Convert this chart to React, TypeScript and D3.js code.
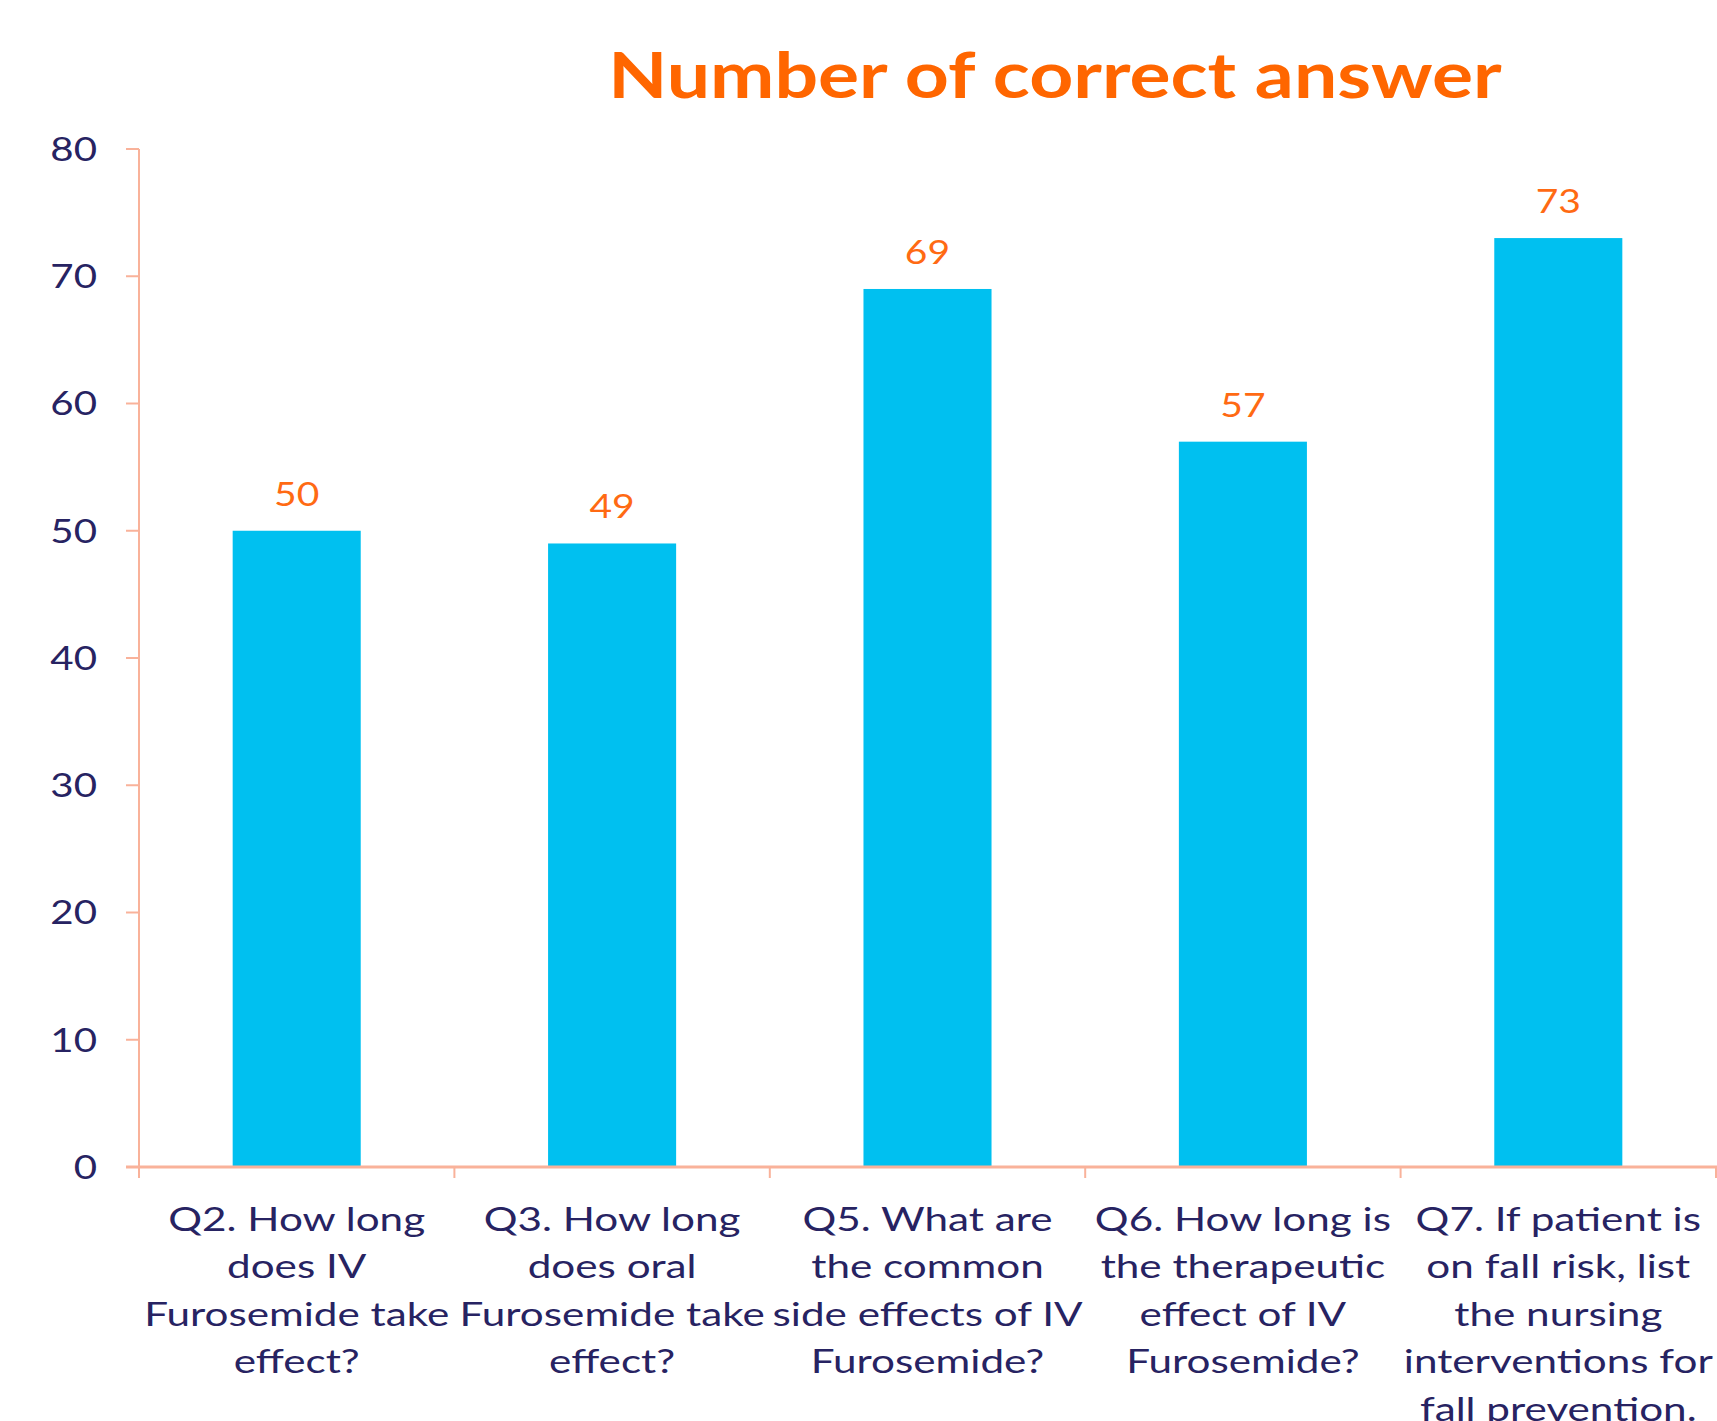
import React from "react";
import * as d3 from "d3";

const categories: string[] = ["Q2", "Q3", "Q5", "Q6", "Q7"];
const values: number[] = [50, 49, 69, 57, 73];
const categoryLabels: string[][] = [
  ["Q2. How long", "does IV", "Furosemide take", "effect?"],
  ["Q3. How long", "does oral", "Furosemide take", "effect?"],
  ["Q5. What are", "the common", "side effects of IV", "Furosemide?"],
  ["Q6. How long is", "the therapeutic", "effect of IV", "Furosemide?"],
  ["Q7. If patient is", "on fall risk, list", "the nursing", "interventions for", "fall prevention."],
];
const yTicks: number[] = [0, 10, 20, 30, 40, 50, 60, 70, 80];
const title = "Number of correct answer";

const W = 1717;
const H = 1421;
const FONT = "Lato, 'Open Sans', sans-serif";
const SX = 1.22;
const SXL = 1.28;

export default function App() {
  const left = 139;
  const right = 1716;
  const top = 149;
  const bottom = 1167;

  const x = d3
    .scaleBand<string>()
    .domain(categories)
    .range([left, right])
    .paddingInner(0.594)
    .paddingOuter(0.297);
  const y = d3.scaleLinear().domain([0, 80]).range([bottom, top]);
  const step = x.step();
  const axisColor = "#F9B29A";
  const navy = "#272362";
  const orange = "#FF6A13";

  const boundaries = d3.range(categories.length + 1).map((i) => left + i * step);

  return (
    <svg
      width={W}
      height={H}
      style={{ position: "absolute", left: 0, top: 0, display: "block", background: "#fff" }}
      fontFamily={FONT}
    >
      <rect x={0} y={0} width={W} height={H} fill="#fff" />
      {/* title */}
      <text
        transform={`translate(1055,98) scale(${SX},1)`}
        textAnchor="middle"
        fontSize={63}
        fontWeight={700}
        fill="#FF6600"
      >
        {title}
      </text>

      {/* y axis */}
      <line x1={left} x2={left} y1={y(80)} y2={bottom + 11} stroke={axisColor} strokeWidth={2} />
      {yTicks.map((t) => (
        <g key={t}>
          <line x1={left - 13} x2={left} y1={y(t)} y2={y(t)} stroke={axisColor} strokeWidth={2} />
          <text
            transform={`translate(97,${y(t)}) scale(${SX},1)`}
            dy="0.36em"
            textAnchor="end"
            fontSize={33}
            fill={navy}
          >
            {t}
          </text>
        </g>
      ))}

      {/* bars */}
      {categories.map((c, i) => (
        <rect
          key={c}
          x={x(c)}
          y={y(values[i])}
          width={x.bandwidth()}
          height={bottom - y(values[i])}
          fill="#00C0F0"
        />
      ))}

      {/* x axis */}
      <line x1={left - 13} x2={W} y1={bottom} y2={bottom} stroke={axisColor} strokeWidth={3} />
      {boundaries.map((b, i) => (
        <line key={i} x1={b} x2={b} y1={bottom} y2={bottom + 11} stroke={axisColor} strokeWidth={2} />
      ))}

      {/* value labels */}
      {categories.map((c, i) => (
        <text
          key={c}
          transform={`translate(${(x(c) as number) + x.bandwidth() / 2},${y(values[i]) - 25}) scale(${SX},1)`}
          textAnchor="middle"
          fontSize={32}
          fill={orange}
        >
          {values[i]}
        </text>
      ))}

      {/* category labels */}
      {categories.map((c, i) => (
        <g key={c}>
          {categoryLabels[i].map((line, j) => (
            <text
              key={j}
              transform={`translate(${(x(c) as number) + x.bandwidth() / 2},${1231 + j * 47.4}) scale(${SXL},1)`}
              textAnchor="middle"
              fontSize={33}
              fill={navy}
            >
              {line}
            </text>
          ))}
        </g>
      ))}
    </svg>
  );
}
